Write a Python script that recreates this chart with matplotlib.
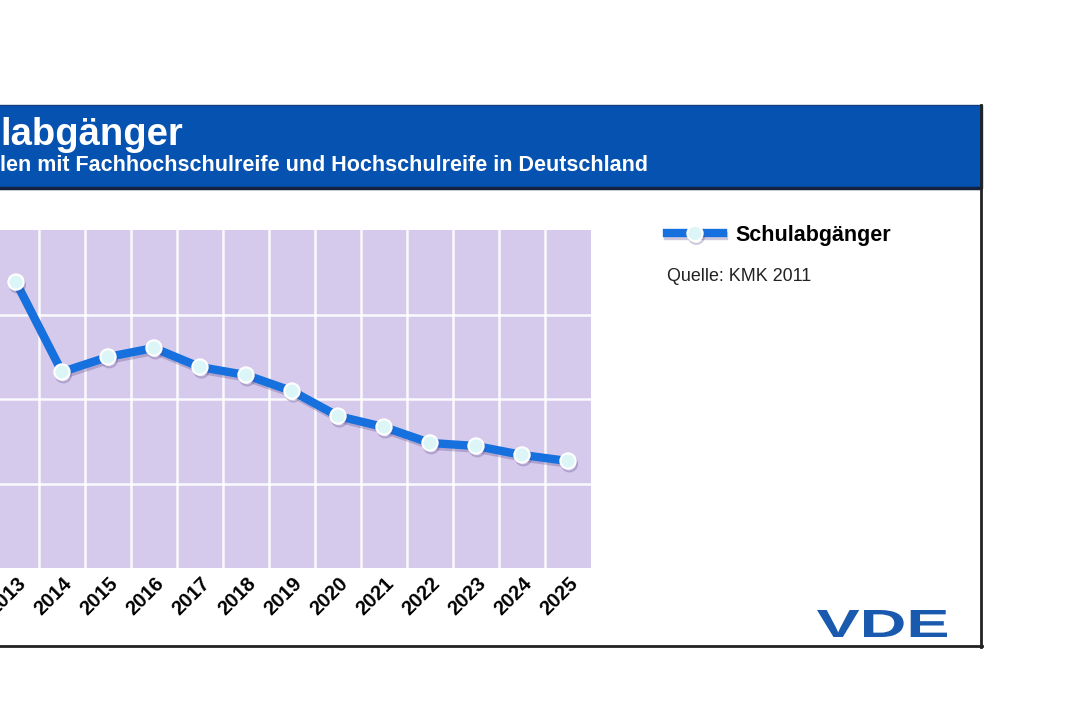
import matplotlib
matplotlib.use("Agg")
import matplotlib.pyplot as plt
import matplotlib.patheffects as pe
from matplotlib.patches import Rectangle, PathPatch
from matplotlib.textpath import TextPath
from matplotlib.font_manager import FontProperties
from matplotlib.transforms import Affine2D

plt.rcParams['font.family'] = ['Liberation Sans', 'DejaVu Sans']

# Schulabgaenger mit (Fach-)Hochschulreife, Prognose KMK 2011
years = ['2013', '2014', '2015', '2016', '2017', '2018', '2019',
         '2020', '2021', '2022', '2023', '2024', '2025']
values = [519200, 466000, 474900, 480200, 468900, 464200, 454700,
          439900, 433400, 424000, 422200, 416900, 413300]

W, H = 1080, 720
fig = plt.figure(figsize=(10.8, 7.2), dpi=100)


def px(x0, y0, x1, y1):
    # pixel box (top-left origin) -> figure fraction rect
    return [x0 / W, 1 - y1 / H, (x1 - x0) / W, (y1 - y0) / H]


# main plot (left part runs off the picture, like the cropped original)
ax = fig.add_axes(px(-7, 230, 591, 568))
ax.set_facecolor('#d5caec')
x = list(range(len(years)))
line, = ax.plot(x, values, color='#1670de', lw=6, marker='o', ms=11,
                mfc='#dcf6f8', mec='white', mew=1.5, label='Schulabgänger',
                zorder=3,
                path_effects=[pe.SimpleLineShadow(offset=(1, -2), shadow_color='#5a4a8a', alpha=0.3),
                              pe.Normal()])
ax.set_xlim(-0.5, len(years) - 0.5)
ax.set_ylim(350000, 550000)
ax.set_yticks([400000, 450000, 500000])
ax.set_xticks(x)
ax.set_xticklabels(years, rotation=45, ha='right', va='top', rotation_mode='anchor',
                   fontweight='bold', fontsize=14.5)
ax.set_xticks([i + 0.5 for i in x[:-1]], minor=True)
ax.grid(axis='y', color='white', lw=1.8, alpha=0.9)
ax.grid(axis='x', which='minor', color='white', lw=1.8, alpha=0.9)
ax.set_axisbelow(True)
ax.tick_params(axis='x', which='major', length=0, pad=4)
ax.tick_params(axis='x', which='minor', length=4, width=1.8, color='white')
ax.tick_params(axis='y', length=0, labelleft=False)
for s in ax.spines.values():
    s.set_visible(False)

# overlay for header band, frame, texts
ov = fig.add_axes([0, 0, 1, 1], zorder=5)
ov.set_xlim(0, W)
ov.set_ylim(H, 0)
ov.axis('off')
ov.patch.set_alpha(0)

ov.add_patch(Rectangle((-5, 105), 987, 83, facecolor='#0652b0', edgecolor='#123e7e', lw=1))
ov.plot([-5, 982], [188, 188], color='#15223f', lw=2.5, solid_capstyle='butt')
ov.plot([981, 981], [105, 647], color='#222222', lw=2)
ov.plot([-5, 982], [646, 646], color='#222222', lw=2)

ov.text(0, 145, 'labgänger', color='white', fontsize=27.5, fontweight='bold', va='baseline')
ov.text(0, 171, 'len mit Fachhochschulreife und Hochschulreife in Deutschland',
        color='white', fontsize=15.5, fontweight='bold', va='baseline')

fig.legend(handles=[line], loc='upper left', bbox_to_anchor=(667 / W, 1 - 225 / H),
           frameon=False, prop={'weight': 'bold', 'size': 15.5}, handlelength=2.6,
           handletextpad=0.6, borderpad=0, borderaxespad=0, numpoints=1)
ov.text(667, 281, 'Quelle: KMK 2011', fontsize=12.9, color='#222222', va='baseline')

# VDE logo, wide bold lettering
tp = TextPath((0, 0), 'VDE', size=1, prop=FontProperties(family='Liberation Sans', weight='bold'))
bb = tp.get_extents()
tr = Affine2D().translate(-bb.x0, -bb.y0).scale(130 / bb.width, -27 / bb.height).translate(817, 637)
ov.add_patch(PathPatch(tr.transform_path(tp), facecolor='#1a5aae', edgecolor='none'))

fig.savefig('out.png', dpi=100, facecolor='white')
